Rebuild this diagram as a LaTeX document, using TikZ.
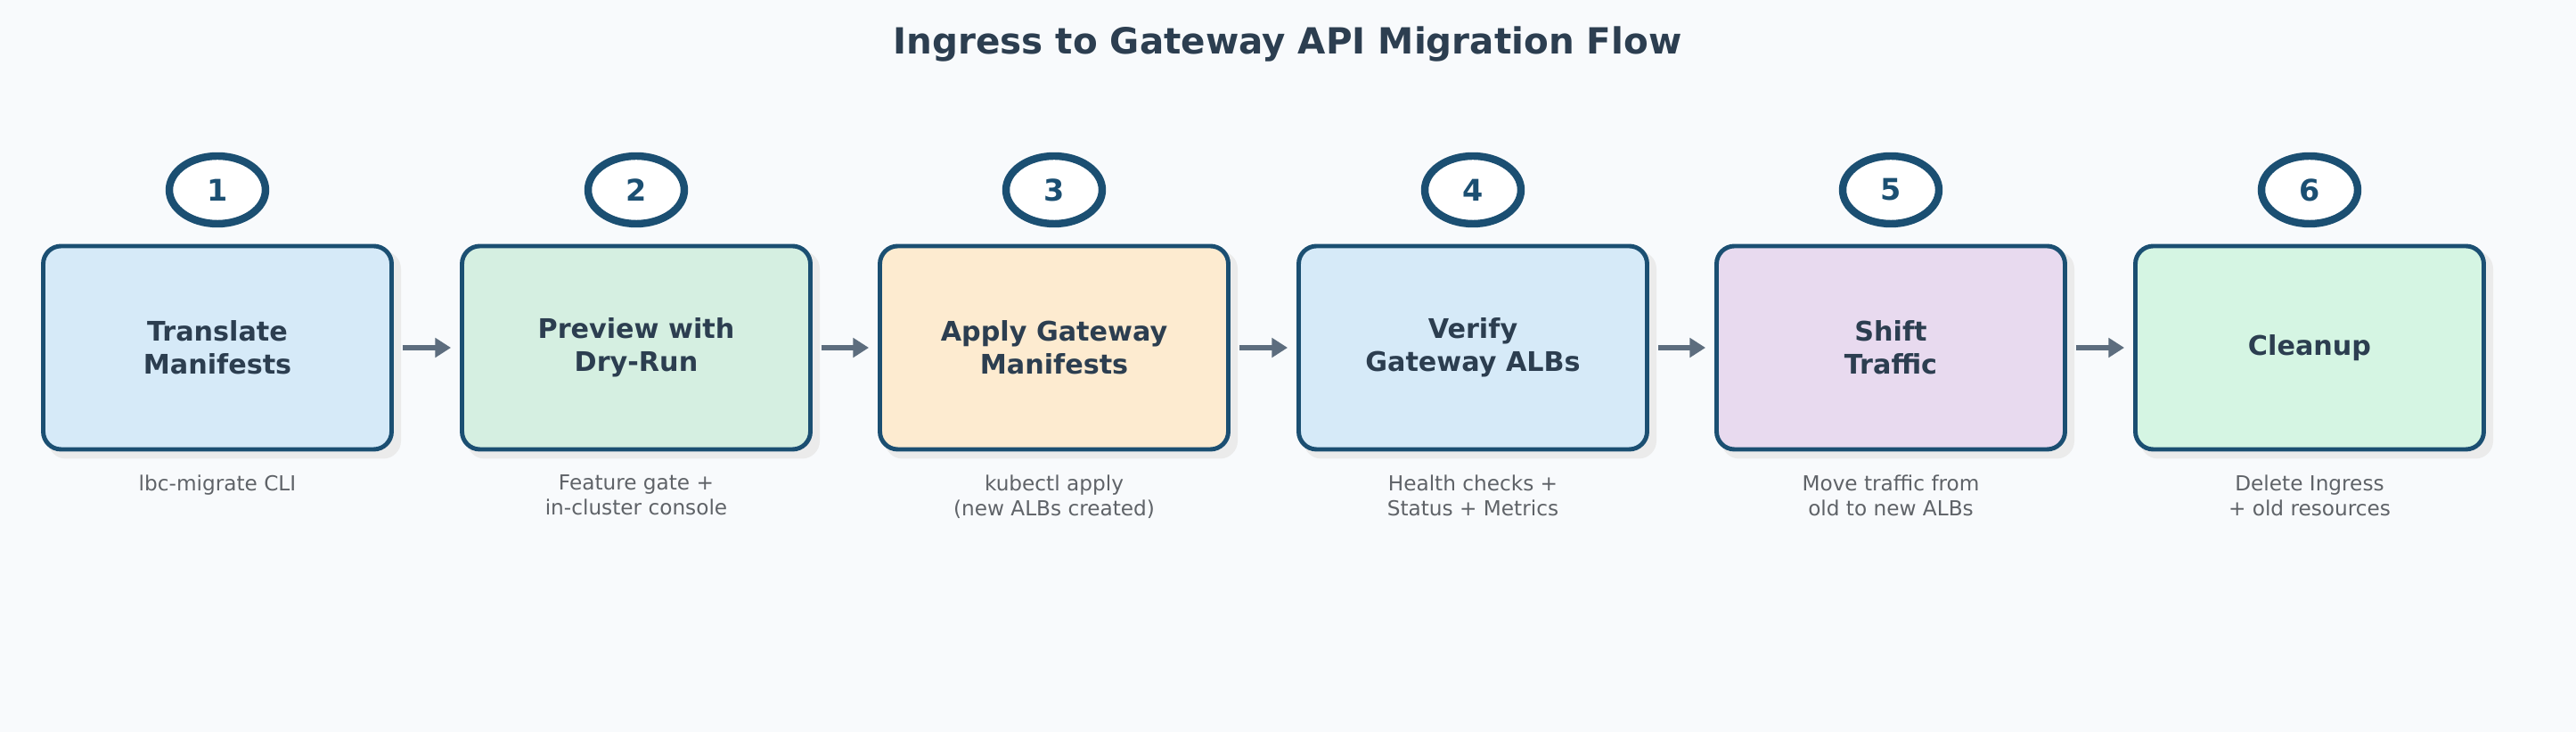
\documentclass[tikz,border=0pt]{standalone}
\usepackage{fontspec}
\setmainfont{DejaVu Sans}
\usetikzlibrary{positioning,arrows.meta,shapes.geometric}
\definecolor{bgCol}{HTML}{F8FAFC}
\definecolor{edgeCol}{HTML}{1B4F72}
\definecolor{textCol}{HTML}{2C3E50}
\definecolor{arrowCol}{HTML}{5D6D7E}
\definecolor{noteCol}{HTML}{5F6368}
\definecolor{blueFill}{HTML}{D6EAF8}
\definecolor{greenFill}{HTML}{D5EFE1}
\definecolor{orangeFill}{HTML}{FDEBD0}
\definecolor{purpleFill}{HTML}{E8DAEF}
\definecolor{mintFill}{HTML}{D5F5E3}
\tikzset{
	stepBox/.style={rectangle, draw=edgeCol, line width=1.4pt, rounded corners=0.2cm, minimum width=3.91cm, minimum height=2.28cm, font=\fontsize{8.6}{10.5}\selectfont\bfseries, text=textCol, align=center},
	stepShadow/.style={rectangle, fill=black!8, rounded corners=0.2cm, minimum width=3.96cm, minimum height=2.33cm},
	stepNum/.style={ellipse, draw=edgeCol, fill=white, line width=2.4pt, minimum width=1.08cm, minimum height=0.76cm, font=\fontsize{9.5}{11}\selectfont\bfseries, text=edgeCol},
	stepNote/.style={font=\fontsize{6.6}{8}\selectfont, text=noteCol, align=center, anchor=north},
	stepArrow/.style={-{Triangle[length=5pt,width=6pt]}, draw=arrowCol, line width=1.6pt, shorten <=0.1cm, shorten >=0.1cm}
}
\begin{document}
\begin{tikzpicture}
	\fill[bgCol] (0,0) rectangle (28.91,-8.21);
	\useasboundingbox (0,0) rectangle (28.91,-8.21);

	\node[font=\fontsize{11.5}{13}\selectfont\bfseries, text=textCol](title) at (14.45,-0.5){Ingress to Gateway API Migration Flow};

	% shadows
	\node[stepShadow](shadow1) at (2.52,-3.98){};
	\node[stepShadow](shadow2) at (7.22,-3.98){};
	\node[stepShadow](shadow3) at (11.91,-3.98){};
	\node[stepShadow](shadow4) at (16.61,-3.98){};
	\node[stepShadow](shadow5) at (21.30,-3.98){};
	\node[stepShadow](shadow6) at (26.00,-3.98){};

	% step boxes
	\node[stepBox, fill=blueFill](step1) at (2.44,-3.90){Translate\\Manifests};
	\node[stepBox, fill=greenFill](step2) at (7.14,-3.90){Preview with\\Dry-Run};
	\node[stepBox, fill=orangeFill](step3) at (11.83,-3.90){Apply Gateway\\Manifests};
	\node[stepBox, fill=blueFill](step4) at (16.53,-3.90){Verify\\Gateway ALBs};
	\node[stepBox, fill=purpleFill](step5) at (21.22,-3.90){Shift\\Traffic};
	\node[stepBox, fill=mintFill](step6) at (25.92,-3.90){Cleanup};

	% numbers
	\node[stepNum](num1) at (2.44,-2.13){1};
	\node[stepNum](num2) at (7.14,-2.13){2};
	\node[stepNum](num3) at (11.83,-2.13){3};
	\node[stepNum](num4) at (16.53,-2.13){4};
	\node[stepNum](num5) at (21.22,-2.13){5};
	\node[stepNum](num6) at (25.92,-2.13){6};

	% notes
	\node[stepNote, below=0.14cm of step1](note1){lbc-migrate CLI};
	\node[stepNote, below=0.14cm of step2](note2){Feature gate +\\in-cluster console};
	\node[stepNote, below=0.14cm of step3](note3){kubectl apply\\(new ALBs created)};
	\node[stepNote, below=0.14cm of step4](note4){Health checks +\\Status + Metrics};
	\node[stepNote, below=0.14cm of step5](note5){Move traffic from\\old to new ALBs};
	\node[stepNote, below=0.14cm of step6](note6){Delete Ingress\\+ old resources};

	\draw[stepArrow] (step1) -- (step2);
	\draw[stepArrow] (step2) -- (step3);
	\draw[stepArrow] (step3) -- (step4);
	\draw[stepArrow] (step4) -- (step5);
	\draw[stepArrow] (step5) -- (step6);
\end{tikzpicture}
\end{document}
